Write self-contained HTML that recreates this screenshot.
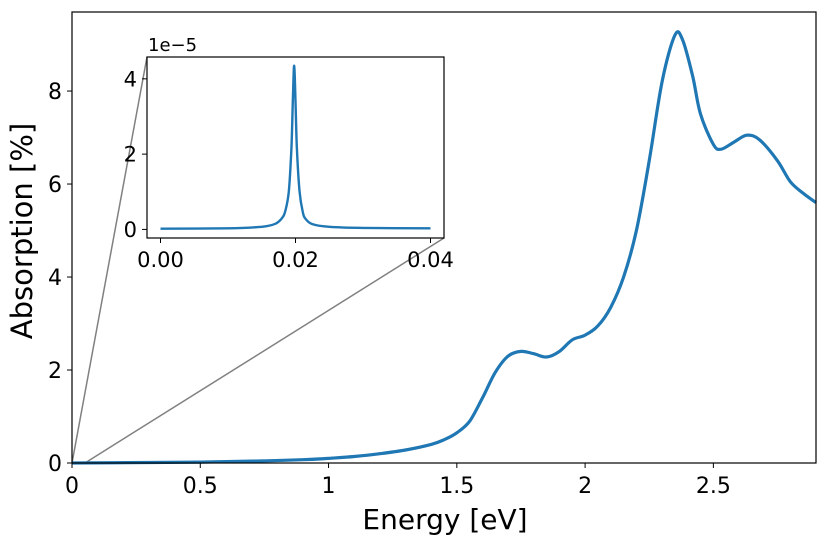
<!DOCTYPE html>
<html><head><meta charset="utf-8"><style>
body{margin:0;background:#fff}
svg{display:block;font-family:"DejaVu Sans","Liberation Sans",sans-serif}
</style></head><body>
<svg id="chart" width="831" height="537"></svg>
<script>
const mainX=[0,0.3,0.5,0.7,0.9,1.0,1.1,1.2,1.3,1.4,1.45,1.5,1.55,1.6,1.65,1.7,1.75,1.8,1.85,1.9,1.95,2.0,2.05,2.1,2.15,2.2,2.25,2.3,2.35,2.38,2.42,2.45,2.5,2.53,2.58,2.63,2.68,2.75,2.8,2.85,2.9];
const mainY=[0,0.01,0.02,0.04,0.07,0.1,0.14,0.2,0.28,0.4,0.5,0.65,0.9,1.4,1.95,2.3,2.4,2.35,2.28,2.4,2.65,2.75,2.95,3.35,4.0,5.0,6.5,8.2,9.2,9.1,8.3,7.5,6.85,6.75,6.9,7.05,6.95,6.5,6.05,5.8,5.6];
const insetX=[0,0.01,0.015,0.017,0.018,0.0185,0.019,0.0194,0.0196,0.0198,0.02,0.0202,0.0206,0.0211,0.0215,0.0225,0.025,0.03,0.04];
const insetY=[0.02,0.03,0.07,0.15,0.3,0.5,1.0,2.2,3.4,4.35,3.4,2.2,1.0,0.45,0.28,0.14,0.07,0.04,0.03];
const mainXTicks=[0,0.5,1,1.5,2,2.5];
const mainXTickLabels=["0","0.5","1","1.5","2","2.5"];
const mainYTicks=[0,2,4,6,8];
const insetXTicks=[0,0.02,0.04];
const insetXTickLabels=["0.00","0.02","0.04"];
const insetYTicks=[0,2,4];

const NS="http://www.w3.org/2000/svg";
const svg=document.getElementById('chart');
function el(tag,attrs,parent,text){const e=document.createElementNS(NS,tag);for(const k in attrs)e.setAttribute(k,attrs[k]);if(text!==undefined)e.textContent=text;(parent||svg).appendChild(e);return e;}
function smooth(pts){
  let d='M'+pts[0][0].toFixed(1)+','+pts[0][1].toFixed(1);
  for(let i=0;i<pts.length-1;i++){
    const p0=pts[Math.max(0,i-1)],p1=pts[i],p2=pts[i+1],p3=pts[Math.min(pts.length-1,i+2)];
    const c1x=p1[0]+(p2[0]-p0[0])/6,c1y=p1[1]+(p2[1]-p0[1])/6;
    const c2x=p2[0]-(p3[0]-p1[0])/6,c2y=p2[1]-(p3[1]-p1[1])/6;
    d+='C'+c1x.toFixed(1)+','+c1y.toFixed(1)+' '+c2x.toFixed(1)+','+c2y.toFixed(1)+' '+p2[0].toFixed(1)+','+p2[1].toFixed(1);
  }
  return d;
}

const M={l:72,r:816,t:12,b:463,x0:0,x1:2.9,y0:0,y1:9.7};
const mx=v=>M.l+(v-M.x0)/(M.x1-M.x0)*(M.r-M.l);
const my=v=>M.b-(v-M.y0)/(M.y1-M.y0)*(M.b-M.t);
const I={l:147,r:444,t:57,b:238,x0:-0.002,x1:0.042,y0:-0.228,y1:4.58};
const ix=v=>I.l+(v-I.x0)/(I.x1-I.x0)*(I.r-I.l);
const iy=v=>I.b-(v-I.y0)/(I.y1-I.y0)*(I.b-I.t);

let c1=el('line',{x1:mx(0),y1:my(0),x2:I.l,y2:I.t,stroke:'#808080','stroke-width':1.5});


let c2=el('line',{x1:85,y1:my(0),x2:I.r,y2:I.b,stroke:'#808080','stroke-width':1.5});



let ml=el('path',{d:smooth(mainX.map((x,i)=>[mx(x),my(mainY[i])])),fill:'none',stroke:'#1f77b4','stroke-width':3.2,'stroke-linejoin':'round'});



let mf=el('rect',{x:M.l,y:M.t,width:M.r-M.l,height:M.b-M.t,fill:'none',stroke:'#000','stroke-width':1.2});



mainXTicks.forEach((v,i)=>{
  el('line',{x1:mx(v),y1:M.b,x2:mx(v),y2:M.b+5,stroke:'#000','stroke-width':1});
  let t=el('text',{x:mx(v),y:M.b+30,'text-anchor':'middle','font-size':22},null,mainXTickLabels[i]);
  
  
});
mainYTicks.forEach(v=>{
  el('line',{x1:M.l-5,y1:my(v),x2:M.l,y2:my(v),stroke:'#000','stroke-width':1});
  let t=el('text',{x:M.l-10,y:my(v)+8,'text-anchor':'end','font-size':22},null,String(v));
  
  
});
let xt=el('text',{x:(M.l+M.r)/2+1,y:529,'text-anchor':'middle','font-size':28},null,'Energy [eV]');


let yt=el('text',{x:0,y:0,'text-anchor':'middle','font-size':29,transform:`translate(32,231) rotate(-90)`},null,'Absorption [%]');



let ib=el('rect',{x:I.l,y:I.t,width:I.r-I.l,height:I.b-I.t,fill:'#fff',stroke:'none'});


let il=el('path',{d:smooth(insetX.map((x,i)=>[ix(x),iy(insetY[i])])),fill:'none',stroke:'#1f77b4','stroke-width':2.4,'stroke-linejoin':'round'});


let iframe=el('rect',{x:I.l,y:I.t,width:I.r-I.l,height:I.b-I.t,fill:'none',stroke:'#000','stroke-width':1.2});


insetXTicks.forEach((v,i)=>{
  el('line',{x1:ix(v),y1:I.b,x2:ix(v),y2:I.b+5,stroke:'#000','stroke-width':1});
  let t=el('text',{x:ix(v),y:I.b+29,'text-anchor':'middle','font-size':21},null,insetXTickLabels[i]);
  
  
});
insetYTicks.forEach(v=>{
  el('line',{x1:I.l-5,y1:iy(v),x2:I.l,y2:iy(v),stroke:'#000','stroke-width':1});
  let t=el('text',{x:I.l-10,y:iy(v)+7.5,'text-anchor':'end','font-size':21},null,String(v));
  
  
});
let off=el('text',{x:I.l+1,y:I.t-6,'font-size':18},null,'1e\u22125');


</script>
</body></html>
